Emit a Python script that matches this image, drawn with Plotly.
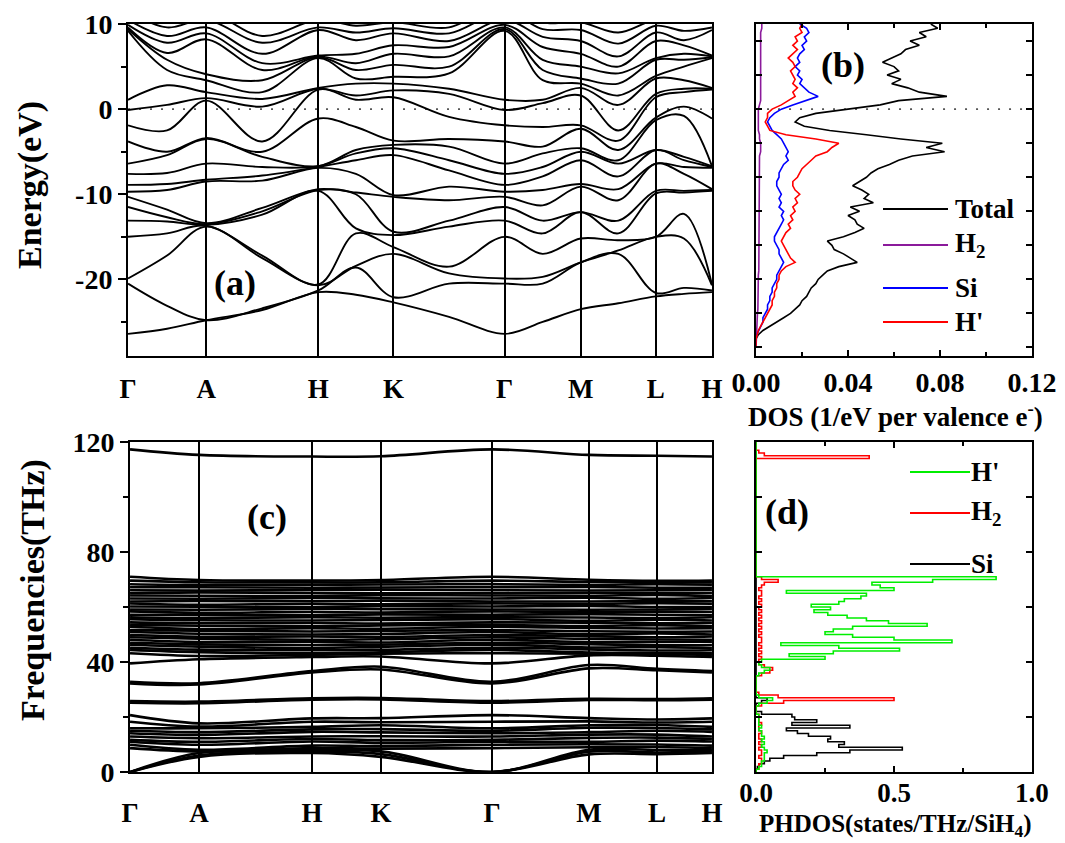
import plotly.graph_objects as go

FONT = "Liberation Serif"

# ---------------- (a) electronic band structure ----------------
KPATH_A = [0, 39, 78, 134, 190, 227.5, 265, 320.5, 376, 414, 452, 489.5, 527, 555, 583]
SYM_A = [0, 78, 190, 265, 376, 452, 527, 583]
SYM_LABELS = ["Γ", "A", "H", "K", "Γ", "M", "L", "H"]

# band energies (eV, sorted) read at each k-point of the path
E_G = [-26.4, -20.5, -19.9, -15.0, -13.1, -11.5, -10.3, -9.7, -8.9, -7.6, -6.4, -3.8, -1.9, -0.1, 1.1, 9.2, 9.4, 9.6, 9.9, 10.5, 11.5, 12.5]
E_GA = [-25.8, -23.1, -17.2, -14.6, -13.2, -12.7, -11.8, -9.5, -8.8, -7.5, -5.4, -5.0, -2.5, 0.5, 2.8, 4.6, 5.8, 6.6, 7.8, 8.6, 9.6, 10.5]
E_A = [-24.8, -24.8, -13.8, -13.7, -13.6, -13.5, -13.4, -8.5, -8.3, -6.4, -3.5, -3.4, 1.0, 1.3, 2.0, 3.4, 4.1, 8.2, 8.9, 9.6, 10.5, 11.5]
E_AH = [-23.6, -23.4, -17.5, -17.2, -12.4, -12.0, -11.6, -8.4, -7.8, -6.8, -5.6, -5.0, -3.8, 0.3, 1.2, 2.0, 3.4, 4.6, 5.4, 6.5, 7.8, 8.6]
E_H = [-21.5, -21.3, -20.7, -20.6, -9.6, -9.5, -9.4, -6.9, -6.8, -6.7, -6.7, -1.1, 2.3, 2.4, 2.5, 6.0, 6.1, 6.2, 6.3, 9.3, 9.6, 10.5]
E_HK = [-21.8, -18.6, -18.4, -14.6, -14.0, -10.0, -9.8, -7.6, -6.0, -5.2, -4.8, -2.1, 1.1, 1.6, 3.0, 3.6, 4.6, 5.4, 6.5, 8.1, 9.0, 9.8]
E_K = [-22.7, -22.1, -17.0, -16.2, -14.8, -14.4, -10.3, -10.1, -5.4, -4.6, -4.2, -3.7, 1.4, 2.2, 3.0, 3.8, 5.2, 6.5, 7.5, 8.9, 9.5, 10.2]
E_KG = [-24.4, -20.5, -19.3, -18.5, -13.8, -13.1, -10.7, -9.1, -7.2, -6.0, -4.4, -3.5, -0.9, 1.8, 2.4, 4.2, 5.0, 6.2, 7.3, 8.0, 8.9, 9.6]
E_GM = [-25.0, -20.5, -19.7, -17.0, -14.6, -13.1, -11.3, -9.5, -7.9, -6.8, -5.2, -4.4, -2.1, 0.7, 1.1, 3.4, 4.6, 5.8, 7.3, 8.5, 9.4, 10.2]
E_M = [-23.5, -18.0, -18.0, -15.2, -12.1, -12.1, -9.1, -8.8, -6.0, -5.0, -4.6, -2.3, -1.9, 1.6, 2.5, 3.0, 3.6, 5.0, 6.5, 8.0, 9.3, 10.2]
E_ML = [-22.8, -17.0, -16.6, -15.4, -14.6, -13.1, -10.7, -9.4, -7.9, -6.4, -6.0, -4.8, -3.7, -2.5, 0.5, 1.6, 3.0, 4.2, 5.0, 6.2, 7.7, 9.0]
E_L = [-22.0, -21.6, -15.0, -15.0, -9.9, -9.6, -6.4, -6.4, -4.8, -4.8, -1.3, -1.0, 1.4, 1.8, 3.6, 3.9, 5.8, 6.0, 8.0, 9.0, 9.8, 10.5]
E_LH = [-21.7, -21.0, -15.2, -12.3, -9.8, -9.6, -7.6, -6.8, -6.0, -5.6, -0.8, 0.3, 2.0, 2.4, 3.4, 5.0, 5.8, 6.5, 7.5, 8.1, 9.2, 10.2]

# ---------------- (b) electronic DOS ----------------
DOS_E = [10.0, 9.5, 9.0, 8.5, 8.0, 7.5, 7.0, 6.5, 6.0, 5.5,
         5.0, 4.5, 4.0, 3.5, 3.0, 2.5, 2.0, 1.5, 1.0, 0.5,
         0.0, -0.5, -1.0, -1.5, -2.0, -2.5, -3.0, -3.5, -4.0, -4.5,
         -5.0, -5.5, -6.0, -6.5, -7.0, -7.5, -8.0, -8.5, -9.0, -9.5,
         -10.0, -10.5, -11.0, -11.5, -12.0, -12.5, -13.0, -13.5, -14.0, -14.5,
         -15.0, -15.5, -16.0, -16.5, -17.0, -17.5, -18.0, -18.5, -19.0, -19.5,
         -20.0, -20.5, -21.0, -21.5, -22.0, -22.5, -23.0, -23.5, -24.0, -24.5,
         -25.0, -25.5, -26.0, -26.5, -27.0, -27.5, -28.0]
DOS_TOTAL = [0.076, 0.079, 0.071, 0.074, 0.067, 0.071, 0.065, 0.063, 0.059, 0.055,
             0.060, 0.062, 0.057, 0.063, 0.059, 0.066, 0.071, 0.083, 0.062, 0.054,
             0.040, 0.026, 0.019, 0.017, 0.021, 0.032, 0.048, 0.063, 0.081, 0.074,
             0.082, 0.068, 0.062, 0.058, 0.053, 0.050, 0.048, 0.045, 0.042, 0.046,
             0.049, 0.047, 0.051, 0.041, 0.045, 0.040, 0.043, 0.044, 0.047, 0.043,
             0.038, 0.031, 0.033, 0.034, 0.038, 0.041, 0.044, 0.036, 0.031, 0.029,
             0.027, 0.026, 0.024, 0.023, 0.022, 0.020, 0.019, 0.017, 0.015, 0.012,
             0.009, 0.006, 0.003, 0.001, 0.0, 0.0, 0.0]
DOS_H2 = [0.0025, 0.0025, 0.002, 0.002, 0.002, 0.002, 0.002, 0.002, 0.002, 0.002,
          0.002, 0.002, 0.002, 0.002, 0.002, 0.002, 0.002, 0.002, 0.002, 0.0015,
          0.001, 0.001, 0.001, 0.001, 0.001, 0.001, 0.0015, 0.0015, 0.002, 0.002,
          0.002, 0.0015, 0.0015, 0.0015, 0.0015, 0.0015, 0.0015, 0.0015, 0.0015, 0.0015,
          0.0015, 0.0015, 0.0015, 0.0015, 0.0015, 0.0015, 0.0015, 0.0015, 0.0015, 0.0015,
          0.0012, 0.0012, 0.0012, 0.0012, 0.0012, 0.0012, 0.0012, 0.0012, 0.0012, 0.001,
          0.001, 0.001, 0.001, 0.001, 0.001, 0.001, 0.0008, 0.0008, 0.0006, 0.0005,
          0.0004, 0.0003, 0.0002, 0.0001, 0.0, 0.0, 0.0]
DOS_SI = [0.019, 0.022, 0.023, 0.021, 0.022, 0.020, 0.021, 0.019, 0.018, 0.019,
          0.017, 0.019, 0.018, 0.020, 0.019, 0.021, 0.023, 0.027, 0.021, 0.016,
          0.011, 0.008, 0.006, 0.005, 0.006, 0.007, 0.009, 0.011, 0.012, 0.013,
          0.014, 0.013, 0.014, 0.012, 0.011, 0.010, 0.010, 0.009, 0.009, 0.010,
          0.011, 0.010, 0.011, 0.010, 0.012, 0.011, 0.012, 0.011, 0.010, 0.009,
          0.008, 0.008, 0.009, 0.010, 0.010, 0.011, 0.012, 0.011, 0.010, 0.009,
          0.009, 0.008, 0.007, 0.007, 0.006, 0.006, 0.005, 0.005, 0.004, 0.003,
          0.003, 0.002, 0.001, 0.0003, 0.0, 0.0, 0.0]
DOS_HP = [0.020, 0.019, 0.020, 0.017, 0.018, 0.016, 0.018, 0.016, 0.014, 0.016,
          0.017, 0.015, 0.016, 0.017, 0.016, 0.018, 0.016, 0.017, 0.014, 0.011,
          0.007, 0.005, 0.005, 0.004, 0.005, 0.006, 0.013, 0.026, 0.036, 0.033,
          0.031, 0.026, 0.024, 0.022, 0.020, 0.019, 0.018, 0.016, 0.016, 0.017,
          0.019, 0.017, 0.018, 0.016, 0.017, 0.015, 0.016, 0.014, 0.015, 0.013,
          0.012, 0.011, 0.012, 0.013, 0.014, 0.015, 0.017, 0.013, 0.011, 0.010,
          0.010, 0.009, 0.009, 0.008, 0.008, 0.007, 0.007, 0.006, 0.005, 0.004,
          0.003, 0.002, 0.001, 0.0005, 0.0, 0.0, 0.0]

# ---------------- (c) phonon dispersion ----------------
KPATH_C = [0, 69, 182, 251, 362, 459, 527, 582]
F_G = [0, 0, 0, 8.7, 9.9, 11.0, 11.7, 12.9, 14.1, 15.0, 15.9, 18.3, 20.7,
       25.2, 25.8, 32.2, 32.8, 39.5, 43.2,
       44.4, 45.2, 46.3, 47.0, 48.1, 49.0, 49.8, 50.9, 51.6, 52.8,
       53.5, 54.4, 55.6, 56.3, 57.2, 58.4, 59.1, 60.2, 61.3, 62.0,
       63.1, 64.2, 65.0, 66.1, 67.2, 68.3, 69.6, 71.0,
       117.3]
F_A = [5.5, 6.0, 6.9, 7.5, 8.1, 9.9, 11.0, 12.3, 13.5, 14.5, 15.9, 16.5, 17.7,
       25.0, 25.6, 31.8, 32.3, 41.0, 42.2,
       43.6, 44.5, 45.6, 46.4, 47.3, 48.5, 49.2, 50.3, 51.4, 52.0,
       53.2, 54.1, 55.2, 56.0, 57.1, 57.9, 59.0, 60.1, 60.8, 62.2,
       63.0, 64.1, 65.3, 66.0, 67.2, 68.0, 69.0, 69.8,
       115.3]
F_H = [6.9, 7.5, 8.0, 8.7, 9.6, 11.1, 12.0, 12.9, 14.6, 15.5, 16.4, 18.3, 19.5,
       26.3, 26.8, 36.2, 36.7, 41.8, 42.6,
       43.2, 44.3, 45.1, 46.2, 47.4, 48.1, 49.3, 50.0, 51.1, 52.3,
       53.0, 54.2, 55.1, 56.3, 57.0, 58.2, 59.3, 60.0, 61.2, 62.1,
       63.3, 64.0, 65.1, 66.2, 67.0, 68.1, 68.9, 69.6,
       114.7]
F_K = [5.5, 6.5, 7.5, 8.5, 9.4, 10.6, 11.6, 13.0, 14.4, 15.6, 17.0, 18.1, 19.6,
       26.4, 26.9, 37.3, 38.3, 42.0, 43.0,
       43.5, 44.4, 45.5, 46.3, 47.1, 48.3, 49.1, 50.2, 51.3, 52.1,
       53.3, 54.0, 55.3, 56.1, 57.3, 58.0, 59.2, 60.3, 61.0, 62.3,
       63.2, 64.3, 65.0, 66.3, 67.1, 68.2, 69.0, 69.8,
       114.8]
F_M = [6.4, 7.4, 8.1, 9.0, 10.1, 11.0, 12.4, 13.6, 14.5, 16.1, 17.0, 18.4, 19.6,
       26.2, 26.6, 37.7, 38.9, 42.4, 43.0,
       43.4, 44.6, 45.3, 46.5, 47.2, 48.4, 49.4, 50.1, 51.2, 52.4,
       53.1, 54.3, 55.0, 56.2, 57.4, 58.1, 59.0, 60.4, 61.1, 62.0,
       63.4, 64.1, 65.2, 66.0, 67.3, 68.0, 69.1, 69.9,
       115.3]
F_L = [6.5, 7.1, 8.0, 9.1, 10.0, 11.4, 12.5, 13.6, 15.0, 16.0, 17.1, 18.0, 19.1,
       26.1, 26.5, 37.0, 37.5, 42.3, 42.9,
       43.3, 44.2, 45.4, 46.1, 47.3, 48.2, 49.0, 50.4, 51.0, 52.2,
       53.4, 54.1, 55.4, 56.0, 57.2, 58.3, 59.1, 60.0, 61.4, 62.2,
       63.0, 64.4, 65.1, 66.1, 67.0, 68.3, 69.0, 69.5,
       115.0]

# ---------------- (d) phonon DOS ----------------
PH_FREQ = [0, 1, 2, 3, 4, 5, 6, 7, 8, 9, 10, 11, 12, 13, 14, 15, 16, 17, 18, 19,
           20, 21, 22, 23, 24, 25, 26, 27, 28, 29, 30, 31, 32, 33, 34, 35, 36, 37, 38, 39,
           40, 41, 42, 43, 44, 45, 46, 47, 48, 49, 50, 51, 52, 53, 54, 55, 56, 57, 58, 59,
           60, 61, 62, 63, 64, 65, 66, 67, 68, 69, 70, 71, 72, 73, 74, 75, 76, 77, 78, 79,
           80, 81, 82, 83, 84, 85, 86, 87, 88, 89, 90, 91, 92, 93, 94, 95, 96, 97, 98, 99,
           100, 101, 102, 103, 104, 105, 106, 107, 108, 109, 110, 111, 112, 113, 114, 115,
           116, 117, 118, 119, 120]
PH_HP = [0.00, 0.01, 0.02, 0.02, 0.03, 0.03, 0.03, 0.04, 0.03, 0.02,
         0.03, 0.02, 0.03, 0.02, 0.02, 0.01, 0.02, 0.01, 0.01, 0.01,
         0.01, 0.00, 0.00, 0.00, 0.01, 0.04, 0.06, 0.01, 0.00, 0.00,
         0.00, 0.00, 0.00, 0.00, 0.00, 0.01, 0.03, 0.05, 0.02, 0.01,
         0.02, 0.25, 0.12, 0.28, 0.52, 0.30, 0.09, 0.71, 0.50, 0.35,
         0.25, 0.28, 0.35, 0.62, 0.48, 0.40, 0.33, 0.26, 0.21, 0.27,
         0.20, 0.30, 0.32, 0.38, 0.40, 0.11, 0.50, 0.45, 0.42, 0.64,
         0.87, 0, 0, 0, 0, 0, 0, 0, 0, 0,
         0, 0, 0, 0, 0, 0, 0, 0, 0, 0,
         0, 0, 0, 0, 0, 0, 0, 0, 0, 0,
         0, 0, 0, 0, 0, 0, 0, 0, 0, 0,
         0, 0, 0, 0, 0, 0, 0, 0, 0, 0,
         0]
PH_H2 = [0.00, 0.01, 0.01, 0.02, 0.02, 0.01, 0.02, 0.02, 0.01, 0.02,
         0.01, 0.02, 0.01, 0.01, 0.02, 0.01, 0.01, 0.02, 0.01, 0.01,
         0.01, 0.00, 0.00, 0.00, 0.02, 0.10, 0.50, 0.08, 0.01, 0.00,
         0.00, 0.00, 0.00, 0.00, 0.00, 0.02, 0.05, 0.06, 0.03, 0.01,
         0.01, 0.02, 0.01, 0.02, 0.01, 0.02, 0.01, 0.02, 0.02, 0.01,
         0.02, 0.01, 0.02, 0.01, 0.02, 0.01, 0.02, 0.01, 0.02, 0.01,
         0.02, 0.01, 0.02, 0.01, 0.02, 0.02, 0.01, 0.02, 0.03, 0.08,
         0.02, 0, 0, 0, 0, 0, 0, 0, 0, 0,
         0, 0, 0, 0, 0, 0, 0, 0, 0, 0,
         0, 0, 0, 0, 0, 0, 0, 0, 0, 0,
         0, 0, 0, 0, 0, 0, 0, 0, 0, 0,
         0, 0, 0, 0, 0.41, 0.03, 0.01, 0, 0, 0,
         0]
PH_SI = [0.00, 0.005, 0.01, 0.03, 0.05, 0.10, 0.22, 0.34, 0.53, 0.30,
         0.32, 0.26, 0.27, 0.19, 0.15, 0.11, 0.34, 0.13, 0.22, 0.14,
         0.13, 0.02, 0.00, 0.00, 0.00, 0.02, 0.04, 0.00, 0.00, 0.00,
         0, 0, 0, 0, 0, 0, 0, 0, 0, 0,
         0, 0, 0, 0, 0, 0, 0, 0, 0, 0,
         0, 0, 0, 0, 0, 0, 0, 0, 0, 0,
         0, 0, 0, 0, 0, 0, 0, 0, 0, 0,
         0, 0, 0, 0, 0, 0, 0, 0, 0, 0,
         0, 0, 0, 0, 0, 0, 0, 0, 0, 0,
         0, 0, 0, 0, 0, 0, 0, 0, 0, 0,
         0, 0, 0, 0, 0, 0, 0, 0, 0, 0,
         0, 0, 0, 0, 0, 0, 0, 0, 0, 0,
         0]

COLS_A = [E_G, E_GA, E_A, E_AH, E_H, E_HK, E_K, E_KG, E_G, E_GM, E_M, E_ML, E_L, E_LH, E_H]
COLS_C = [F_G, F_A, F_H, F_K, F_G, F_M, F_L, F_H]

fig = go.Figure()

for i in range(len(E_G)):
    fig.add_trace(go.Scatter(x=KPATH_A, y=[c[i] for c in COLS_A], mode="lines",
                             line=dict(color="black", width=1.9, shape="spline", smoothing=1.0),
                             xaxis="x", yaxis="y", hoverinfo="skip", showlegend=False))

for name, vals, col in [("Total", DOS_TOTAL, "black"), ("H2", DOS_H2, "#8B1A9B"),
                        ("Si", DOS_SI, "#0000FF"), ("H'", DOS_HP, "#FF0000")]:
    fig.add_trace(go.Scatter(x=vals, y=DOS_E, mode="lines", line=dict(color=col, width=1.6),
                             xaxis="x2", yaxis="y2", hoverinfo="skip", showlegend=False, name=name))

for i in range(len(F_G)):
    fig.add_trace(go.Scatter(x=KPATH_C, y=[c[i] for c in COLS_C], mode="lines",
                             line=dict(color="black", width=2.6, shape="spline", smoothing=1.0),
                             xaxis="x3", yaxis="y3", hoverinfo="skip", showlegend=False))

for name, vals, col in [("Si", PH_SI, "black"), ("H2", PH_H2, "#FF0000"), ("H'", PH_HP, "#00EE00")]:
    fig.add_trace(go.Scatter(x=vals, y=PH_FREQ, mode="lines", line=dict(color=col, width=1.6, shape="vh"),
                             xaxis="x4", yaxis="y4", hoverinfo="skip", showlegend=False, name=name))

tickfont = dict(family=FONT, size=28, color="black", weight="bold")
frame = dict(showline=True, linecolor="black", linewidth=2, zeroline=False, showgrid=False, automargin=False)

fig.update_layout(
    width=1065, height=843, margin=dict(l=0, r=0, t=0, b=0, autoexpand=False),
    paper_bgcolor="white", plot_bgcolor="white", showlegend=False,
    xaxis=dict(**{**frame, "showgrid": True}, domain=[0.1202, 0.6685], anchor="y", range=[0, 583],
               tickmode="array", tickvals=SYM_A, ticktext=SYM_LABELS, gridcolor="black", gridwidth=1.6,
               ticks="", mirror=True, tickfont=dict(family=FONT, size=27, color="black", weight="bold"),
               ticklabelstandoff=8),
    yaxis=dict(**frame, domain=[0.5777, 0.9715], anchor="x", range=[-29, 10], mirror=True,
               tickmode="array", tickvals=[-20, -10, 0, 10], ticktext=["-20", "-10", "0", "10"],
               ticks="outside", ticklen=8, tickwidth=2, tickcolor="black", tickfont=tickfont,
               minor=dict(tickmode="array", tickvals=[-25, -15, -5, 5], ticks="outside", ticklen=5,
                          tickwidth=1.5, tickcolor="black", showgrid=False)),
    xaxis2=dict(**frame, domain=[0.7099, 0.969], anchor="y2", range=[0, 0.12], mirror="allticks",
                tickmode="array", tickvals=[0, 0.04, 0.08, 0.12], ticktext=["0.00", "0.04", "0.08", "0.12"],
                ticks="inside", ticklen=6, tickwidth=2, tickcolor="black", tickfont=tickfont,
                minor=dict(tickmode="array", tickvals=[0.02, 0.06, 0.10], ticks="inside", ticklen=4,
                           tickwidth=1.5, tickcolor="black", showgrid=False)),
    yaxis2=dict(**frame, domain=[0.5777, 0.9715], anchor="x2", range=[-29, 10], mirror="allticks",
                tickmode="array", tickvals=[-28, -24, -20, -16, -12, -8, -4, 0, 4, 8],
                showticklabels=False, ticks="inside", ticklen=6, tickwidth=2, tickcolor="black"),
    xaxis3=dict(**{**frame, "showgrid": True}, domain=[0.1221, 0.6685], anchor="y3", range=[0, 582],
                tickmode="array", tickvals=KPATH_C, ticktext=SYM_LABELS, gridcolor="black", gridwidth=1.6,
                ticks="", mirror=True, tickfont=dict(family=FONT, size=27, color="black", weight="bold"),
                ticklabelstandoff=16),
    yaxis3=dict(**frame, domain=[0.0842, 0.4757], anchor="x3", range=[0, 120], mirror=True,
                tickmode="array", tickvals=[0, 40, 80, 120], ticktext=["0", "40", "80", "120"],
                ticks="outside", ticklen=8, tickwidth=2, tickcolor="black", tickfont=tickfont,
                minor=dict(tickmode="array", tickvals=[20, 60, 100], ticks="outside", ticklen=5,
                           tickwidth=1.5, tickcolor="black", showgrid=False)),
    xaxis4=dict(**frame, domain=[0.7099, 0.969], anchor="y4", range=[0, 1.0], mirror="allticks",
                tickmode="array", tickvals=[0, 0.5, 1.0], ticktext=["0.0", "0.5", "1.0"],
                ticks="inside", ticklen=6, tickwidth=2, tickcolor="black",
                tickfont=dict(family=FONT, size=27, color="black", weight="bold"), ticklabelstandoff=-4,
                minor=dict(tickmode="array", tickvals=[0.25, 0.75], ticks="inside", ticklen=4,
                           tickwidth=1.5, tickcolor="black", showgrid=False)),
    yaxis4=dict(**frame, domain=[0.0842, 0.4757], anchor="x4", range=[0, 120], mirror="allticks",
                tickmode="array", tickvals=[20, 40, 60, 80, 100], showticklabels=False,
                ticks="inside", ticklen=6, tickwidth=2, tickcolor="black"),
)

# Fermi level dotted lines
for xr, yr in [("x domain", "y"), ("x2 domain", "y2")]:
    fig.add_shape(type="line", xref=xr, yref=yr, x0=0, x1=1, y0=0, y1=0,
                  line=dict(color="#555555", width=1.6, dash="2px,9px"), layer="below")

def ann(text, x, y, size, **kw):
    kw.setdefault("xanchor", "center")
    fig.add_annotation(text=text, x=x, y=y, xref="paper", yref="paper", showarrow=False,
                       yanchor="middle", font=dict(family=FONT, size=size, color="black"), **kw)

W, H = 1065.0, 843.0
def px(x, y):
    return x / W, 1 - y / H

# panel labels
for lab, (x, y) in [("(a)", (235, 283)), ("(b)", (843, 65)), ("(c)", (267, 517)), ("(d)", (787, 512))]:
    ann("<b>%s</b>" % lab, *px(x, y), 36)

# axis titles
ann("<b>Energy(eV)</b>", *px(30, 185), 34, textangle=-90)
ann("<b>Frequencies(THz)</b>", *px(33, 590), 34, textangle=-90)
ann("<b>DOS (1/eV per valence e<sup>-</sup>)</b>", *px(895, 415), 27)
ann("<b>PHDOS(states/THz/SiH<sub>4</sub>)</b>", *px(895, 825), 25)

# legend (b)
for lab, col, y in [("Total", "black", 209), ("H<sub>2</sub>", "#8B1A9B", 245),
                    ("Si", "#0000FF", 288), ("H'", "#FF0000", 322)]:
    x0, y0 = px(883, y)
    x1, _ = px(948, y)
    fig.add_shape(type="line", xref="paper", yref="paper", x0=x0, x1=x1, y0=y0, y1=y0,
                  line=dict(color=col, width=2))
    ann("<b>%s</b>" % lab, *px(953, y), 27, xanchor="left")

# legend (d)
for lab, col, y in [("H'", "#00EE00", 472), ("H<sub>2</sub>", "#FF0000", 513), ("Si", "black", 564)]:
    x0, y0 = px(910, y)
    x1, _ = px(970, y)
    fig.add_shape(type="line", xref="paper", yref="paper", x0=x0, x1=x1, y0=y0, y1=y0,
                  line=dict(color=col, width=2))
    ann("<b>%s</b>" % lab, *px(969, y), 27, xanchor="left")

fig.write_html("out.html", config={"displayModeBar": False},
               post_script="document.body.style.margin='0px';document.body.style.overflow='hidden';")
